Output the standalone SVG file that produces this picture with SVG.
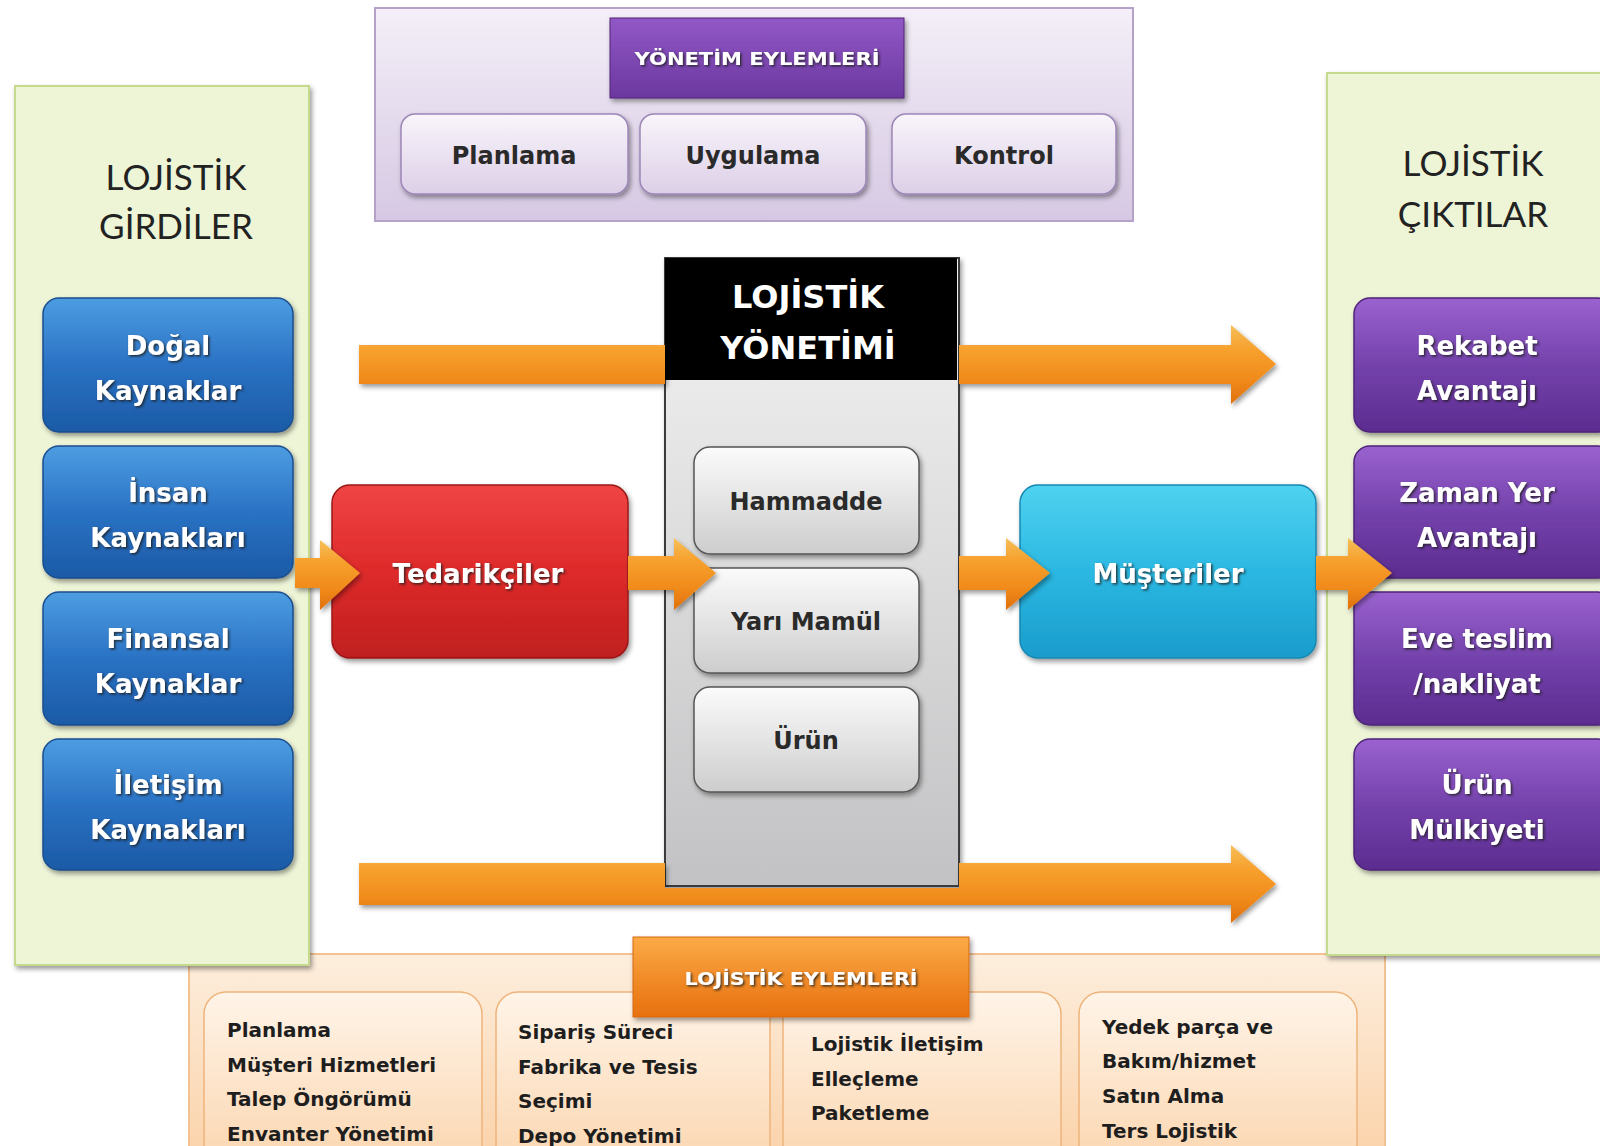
<svg xmlns="http://www.w3.org/2000/svg" width="1600" height="1146" viewBox="0 0 1600 1146">
<defs>
<linearGradient id="gBlue" x1="0" y1="0" x2="0" y2="1"><stop offset="0" stop-color="#4d9de2"/><stop offset="0.5" stop-color="#2a72c4"/><stop offset="1" stop-color="#1b5aa6"/></linearGradient>
<linearGradient id="gPurple" x1="0" y1="0" x2="0" y2="1"><stop offset="0" stop-color="#9a62cf"/><stop offset="0.5" stop-color="#7442ac"/><stop offset="1" stop-color="#5c2c90"/></linearGradient>
<linearGradient id="gRed" x1="0" y1="0" x2="0" y2="1"><stop offset="0" stop-color="#f04444"/><stop offset="0.5" stop-color="#de2a2a"/><stop offset="1" stop-color="#c01f1f"/></linearGradient>
<linearGradient id="gCyan" x1="0" y1="0" x2="0" y2="1"><stop offset="0" stop-color="#4fd2f0"/><stop offset="0.5" stop-color="#2bb8e2"/><stop offset="1" stop-color="#1a9ccc"/></linearGradient>
<linearGradient id="gBtn" x1="0" y1="0" x2="0" y2="1"><stop offset="0" stop-color="#fbfbfb"/><stop offset="1" stop-color="#cdcdcd"/></linearGradient>
<linearGradient id="gBody" x1="0" y1="0" x2="0" y2="1"><stop offset="0" stop-color="#f4f4f4"/><stop offset="1" stop-color="#c2c2c4"/></linearGradient>
<linearGradient id="gTop" x1="0" y1="0" x2="0" y2="1"><stop offset="0" stop-color="#f4eff8"/><stop offset="1" stop-color="#d6c8e3"/></linearGradient>
<linearGradient id="gLav" x1="0" y1="0" x2="0" y2="1"><stop offset="0" stop-color="#f9f5fb"/><stop offset="1" stop-color="#dccfe7"/></linearGradient>
<linearGradient id="gYon" x1="0" y1="0" x2="0" y2="1"><stop offset="0" stop-color="#9258c6"/><stop offset="1" stop-color="#6b389f"/></linearGradient>
<linearGradient id="gPeach" x1="0" y1="0" x2="0" y2="1"><stop offset="0" stop-color="#fdeedd"/><stop offset="1" stop-color="#fbd3ab"/></linearGradient>
<linearGradient id="gPeachBtn" x1="0" y1="0" x2="0" y2="1"><stop offset="0" stop-color="#fff4e8"/><stop offset="1" stop-color="#fbd5ae"/></linearGradient>
<linearGradient id="gOrangeHdr" x1="0" y1="0" x2="0" y2="1"><stop offset="0" stop-color="#fbaa46"/><stop offset="1" stop-color="#e7700e"/></linearGradient>
<linearGradient id="gArrow" x1="0" y1="0" x2="0" y2="1"><stop offset="0" stop-color="#f6c05a"/><stop offset="0.3" stop-color="#f7a12e"/><stop offset="0.7" stop-color="#f08a1a"/><stop offset="1" stop-color="#e0700c"/></linearGradient>
<filter id="sh" x="-10%" y="-10%" width="125%" height="130%"><feDropShadow dx="2" dy="3" stdDeviation="2.5" flood-color="#000" flood-opacity="0.4"/></filter>
<filter id="tsh" x="-10%" y="-20%" width="125%" height="150%"><feDropShadow dx="1.5" dy="1.5" stdDeviation="0.8" flood-color="#222" flood-opacity="0.85"/></filter>
</defs>
<style>
.panelG{fill:#eef5d7;stroke:#c5da8d;stroke-width:2}
.big{font-family:"Lato","Open Sans",sans-serif;font-size:35px;fill:#222;text-anchor:middle}
.lbl{font-family:"DejaVu Sans",sans-serif;font-weight:bold;font-size:26px;fill:#fff;text-anchor:middle}
.dk{font-family:"DejaVu Sans",sans-serif;font-weight:bold;font-size:24px;fill:#2a2a2a;text-anchor:middle}
.hdr{font-family:"DejaVu Sans",sans-serif;font-weight:bold;font-size:18px;fill:#fff;text-anchor:middle}
.lst{font-family:"DejaVu Sans",sans-serif;font-weight:bold;font-size:20px;fill:#1e1e1e}
.blue{fill:url(#gBlue);stroke:#1a4e8e;stroke-width:1.5}
.purp{fill:url(#gPurple);stroke:#4e2478;stroke-width:1.5}
.btn{fill:url(#gBtn);stroke:#555;stroke-width:1.5}
.lav{fill:url(#gLav);stroke:#9c86b6;stroke-width:1.5}
.pbtn{fill:url(#gPeachBtn);stroke:#eeb47c;stroke-width:1.5}
.arr{fill:url(#gArrow)}
</style>
<rect width="1600" height="1146" fill="#ffffff"/>

<g id="logistics-actions">
<rect x="189" y="954" width="1196" height="200" fill="url(#gPeach)" stroke="#f3c290" stroke-width="2"/>
<rect x="204" y="992" width="278" height="180" rx="22" class="pbtn"/>
<rect x="496" y="992" width="274" height="180" rx="22" class="pbtn"/>
<rect x="783" y="992" width="278" height="180" rx="22" class="pbtn"/>
<rect x="1079" y="992" width="278" height="180" rx="22" class="pbtn"/>
<rect x="633" y="937" width="336" height="80" fill="url(#gOrangeHdr)" stroke="#d86a10" stroke-width="1" filter="url(#sh)"/>
<text x="801" y="985" class="hdr" textLength="233" lengthAdjust="spacingAndGlyphs" filter="url(#tsh)">LOJİSTİK EYLEMLERİ</text>
<text x="227" y="1037" class="lst">Planlama</text>
<text x="227" y="1072" class="lst">Müşteri Hizmetleri</text>
<text x="227" y="1106" class="lst">Talep Öngörümü</text>
<text x="227" y="1141" class="lst">Envanter Yönetimi</text>
<text x="518" y="1039" class="lst">Sipariş Süreci</text>
<text x="518" y="1074" class="lst">Fabrika ve Tesis</text>
<text x="518" y="1108" class="lst">Seçimi</text>
<text x="518" y="1143" class="lst">Depo Yönetimi</text>
<text x="811" y="1051" class="lst">Lojistik İletişim</text>
<text x="811" y="1086" class="lst">Elleçleme</text>
<text x="811" y="1120" class="lst">Paketleme</text>
<text x="1102" y="1034" class="lst">Yedek parça ve</text>
<text x="1102" y="1068" class="lst">Bakım/hizmet</text>
<text x="1102" y="1103" class="lst">Satın Alma</text>
<text x="1102" y="1138" class="lst">Ters Lojistik</text>
</g>

<g id="management-actions">
<rect x="375" y="8" width="758" height="213" fill="url(#gTop)" stroke="#b5a2c9" stroke-width="2"/>
<rect x="610" y="18" width="294" height="80" fill="url(#gYon)" stroke="#4f2478" stroke-width="1" filter="url(#sh)"/>
<text x="757" y="65" class="hdr" textLength="245" lengthAdjust="spacingAndGlyphs" filter="url(#tsh)">YÖNETİM EYLEMLERİ</text>
<rect x="401" y="114" width="227" height="80" rx="14" class="lav" filter="url(#sh)"/>
<rect x="640" y="114" width="226" height="80" rx="14" class="lav" filter="url(#sh)"/>
<rect x="892" y="114" width="224" height="80" rx="14" class="lav" filter="url(#sh)"/>
<text x="514" y="164" class="dk">Planlama</text>
<text x="753" y="164" class="dk">Uygulama</text>
<text x="1004" y="164" class="dk">Kontrol</text>
</g>

<g id="logistics-inputs">
<rect x="15" y="86" width="294" height="879" class="panelG" filter="url(#sh)"/>
<text x="176" y="190" class="big">LOJİSTİK</text>
<text x="176" y="239" class="big">GİRDİLER</text>
</g>

<g id="logistics-outputs">
<rect x="1327" y="73" width="290" height="882" class="panelG" filter="url(#sh)"/>
<text x="1473" y="176" class="big">LOJİSTİK</text>
<text x="1473" y="227" class="big">ÇIKTILAR</text>
</g>

<g id="logistics-management">
<rect x="665" y="258" width="294" height="628" fill="url(#gBody)" stroke="#3a3a3a" stroke-width="2" filter="url(#sh)"/>
<rect x="665" y="258" width="292" height="122" fill="#000"/>
<text x="808" y="308" class="lbl" style="font-size:32px">LOJİSTİK</text>
<text x="808" y="359" class="lbl" style="font-size:32px">YÖNETİMİ</text>
</g>
<g id="hammadde"><rect x="694" y="447" width="225" height="107" rx="16" class="btn" filter="url(#sh)"/><text x="806" y="510" class="dk">Hammadde</text></g>
<g id="yari-mamul"><rect x="694" y="568" width="225" height="105" rx="16" class="btn" filter="url(#sh)"/><text x="806" y="630" class="dk">Yarı Mamül</text></g>
<g id="urun"><rect x="694" y="687" width="225" height="105" rx="16" class="btn" filter="url(#sh)"/><text x="806" y="749" class="dk">Ürün</text></g>

<g id="dogal"><rect x="43" y="298" width="250" height="134" rx="16" class="blue" filter="url(#sh)"/><text x="168" y="355" class="lbl" filter="url(#tsh)">Doğal</text><text x="168" y="400" class="lbl" filter="url(#tsh)">Kaynaklar</text></g>
<g id="insan"><rect x="43" y="446" width="250" height="132" rx="16" class="blue" filter="url(#sh)"/><text x="168" y="502" class="lbl" filter="url(#tsh)">İnsan</text><text x="168" y="547" class="lbl" filter="url(#tsh)">Kaynakları</text></g>
<g id="finansal"><rect x="43" y="592" width="250" height="133" rx="16" class="blue" filter="url(#sh)"/><text x="168" y="648" class="lbl" filter="url(#tsh)">Finansal</text><text x="168" y="693" class="lbl" filter="url(#tsh)">Kaynaklar</text></g>
<g id="iletisim"><rect x="43" y="739" width="250" height="131" rx="16" class="blue" filter="url(#sh)"/><text x="168" y="794" class="lbl" filter="url(#tsh)">İletişim</text><text x="168" y="839" class="lbl" filter="url(#tsh)">Kaynakları</text></g>

<g id="rekabet"><rect x="1354" y="298" width="260" height="134" rx="16" class="purp" filter="url(#sh)"/><text x="1477" y="355" class="lbl" filter="url(#tsh)">Rekabet</text><text x="1477" y="400" class="lbl" filter="url(#tsh)">Avantajı</text></g>
<g id="zaman-yer"><rect x="1354" y="446" width="260" height="132" rx="16" class="purp" filter="url(#sh)"/><text x="1477" y="502" class="lbl" filter="url(#tsh)">Zaman Yer</text><text x="1477" y="547" class="lbl" filter="url(#tsh)">Avantajı</text></g>
<g id="eve-teslim"><rect x="1354" y="592" width="260" height="133" rx="16" class="purp" filter="url(#sh)"/><text x="1477" y="648" class="lbl" filter="url(#tsh)">Eve teslim</text><text x="1477" y="693" class="lbl" filter="url(#tsh)">/nakliyat</text></g>
<g id="urun-mulkiyeti"><rect x="1354" y="739" width="260" height="131" rx="16" class="purp" filter="url(#sh)"/><text x="1477" y="794" class="lbl" filter="url(#tsh)">Ürün</text><text x="1477" y="839" class="lbl" filter="url(#tsh)">Mülkiyeti</text></g>

<g id="tedarikciler"><rect x="332" y="485" width="296" height="173" rx="18" fill="url(#gRed)" stroke="#9a1818" stroke-width="1.5" filter="url(#sh)"/><text x="478" y="583" class="lbl" filter="url(#tsh)">Tedarikçiler</text></g>
<g id="musteriler"><rect x="1020" y="485" width="296" height="173" rx="18" fill="url(#gCyan)" stroke="#1788b2" stroke-width="1.5" filter="url(#sh)"/><text x="1168" y="583" class="lbl" filter="url(#tsh)">Müşteriler</text></g>

<g id="connectors">
<path class="arr" filter="url(#sh)" d="M359 345 L665 345 L665 384 L359 384 Z M959 345 L1231 345 L1231 325 L1276 364 L1231 404 L1231 384 L959 384 Z"/>
<path class="arr" filter="url(#sh)" d="M359 863 L665 863 L665 888 L959 888 L959 863 L1231 863 L1231 845 L1276 884 L1231 923 L1231 905 L359 905 Z"/>
<path class="arr" filter="url(#sh)" d="M295 558 L320 558 L320 540 L360 573 L320 610 L320 588 L295 588 Z"/>
<path class="arr" filter="url(#sh)" d="M628 556 L674 556 L674 538 L716 573 L674 610 L674 590 L628 590 Z"/>
<path class="arr" filter="url(#sh)" d="M959 556 L1006 556 L1006 538 L1050 573 L1006 610 L1006 590 L959 590 Z"/>
<path class="arr" filter="url(#sh)" d="M1316 556 L1348 556 L1348 538 L1392 573 L1348 610 L1348 590 L1316 590 Z"/>
</g>
</svg>
